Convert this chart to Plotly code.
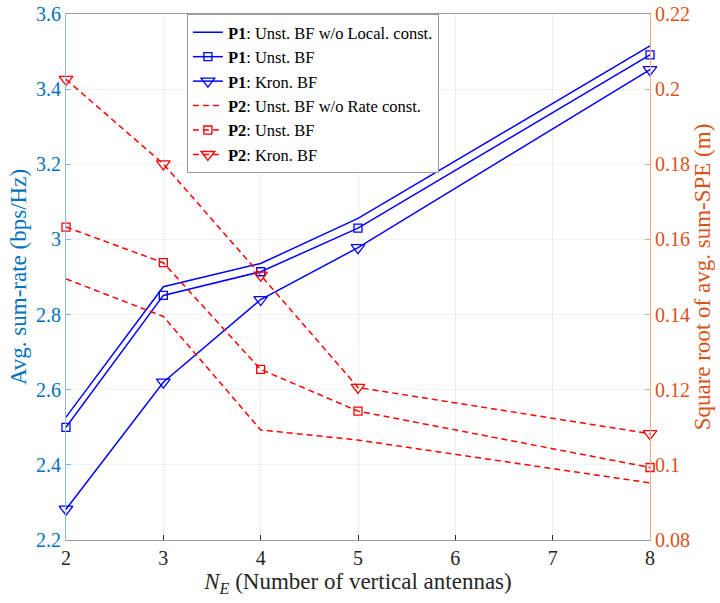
import plotly.graph_objects as go

NE = [2, 3, 4, 5, 8]

# P1: sum-rate (left axis, bps/Hz)
p1_unst_wo_local = [2.527, 2.874, 2.936, 3.056, 3.515]
p1_unst = [2.500, 2.851, 2.914, 3.030, 3.491]
p1_kron = [2.282, 2.620, 2.840, 2.978, 3.452]

# P2: sqrt of avg sum-SPE (right axis, m)
p2_unst_wo_rate = [0.1495, 0.1395, 0.1093, 0.1066, 0.0952]
p2_unst = [0.1633, 0.1538, 0.1254, 0.1143, 0.0993]
p2_kron = [0.2026, 0.1801, 0.1505, 0.1206, 0.1083]

left_ticks = [2.2, 2.4, 2.6, 2.8, 3.0, 3.2, 3.4, 3.6]
left_ticktext = ["2.2", "2.4", "2.6", "2.8", "3", "3.2", "3.4", "3.6"]
right_ticks = [0.08, 0.10, 0.12, 0.14, 0.16, 0.18, 0.20, 0.22]
right_ticktext = ["0.08", "0.1", "0.12", "0.14", "0.16", "0.18", "0.2", "0.22"]
x_ticks = [2, 3, 4, 5, 6, 7, 8]

BLUE = "#0000FF"
RED = "#FF0000"
LEFT_C = "#0072BD"
RIGHT_C = "#D95319"
FONT = "Liberation Serif, Times New Roman, serif"
DASH = "6px,4px"

fig = go.Figure()

def add(y, name, color, dash, symbol, size, axis):
    fig.add_trace(go.Scatter(
        x=NE, y=y, name=name, yaxis=axis,
        mode="lines+markers" if symbol else "lines",
        line=dict(color=color, width=1.5, dash=dash),
        marker=dict(symbol=symbol or "circle", size=size, color=color,
                    line=dict(color=color, width=1.3)),
        cliponaxis=False,
    ))

add(p1_unst_wo_local, "<b>P1</b>: Unst. BF w/o Local. const.", BLUE, "solid", None, 6, "y")
add(p1_unst, "<b>P1</b>: Unst. BF", BLUE, "solid", "square-open", 8, "y")
add(p1_kron, "<b>P1</b>: Kron. BF", BLUE, "solid", "triangle-down-open", 12, "y")
add(p2_unst_wo_rate, "<b>P2</b>: Unst. BF w/o Rate const.", RED, DASH, None, 6, "y2")
add(p2_unst, "<b>P2</b>: Unst. BF", RED, DASH, "square-open", 8, "y2")
add(p2_kron, "<b>P2</b>: Kron. BF", RED, DASH, "triangle-down-open", 12, "y2")

fig.update_layout(
    width=720, height=603,
    margin=dict(l=66, r=70, t=14, b=63, autoexpand=False),
    paper_bgcolor="white", plot_bgcolor="white",
    font=dict(family=FONT, size=20, color="#262626"),
    xaxis=dict(
        range=[2, 8], tickvals=x_ticks, ticks="inside", ticklen=5,
        tickcolor="#262626", showline=True, linecolor="#9a9a9a", linewidth=1,
        mirror=True, showgrid=True, gridcolor="rgba(38,38,38,0.08)",
        zeroline=False, tickfont=dict(family=FONT, size=20, color="#262626"),
        automargin=False,
        title=dict(text="<i>N</i><sub><i>E</i></sub> (Number of vertical antennas)",
                   font=dict(family=FONT, size=23, color="#262626"), standoff=2),
    ),
    yaxis=dict(
        range=[2.2, 3.6], tickvals=left_ticks, ticktext=left_ticktext,
        ticks="inside", ticklen=5, tickcolor="#7FB4DD",
        showline=True, linecolor="#8CBCE2", linewidth=1,
        showgrid=True, gridcolor="rgba(0,114,189,0.07)", zeroline=False,
        tickfont=dict(family=FONT, size=20, color=LEFT_C), automargin=False,
        title=dict(text="Avg. sum-rate (bps/Hz)",
                   font=dict(family=FONT, size=23, color=LEFT_C), standoff=2),
    ),
    yaxis2=dict(
        range=[0.08, 0.22], tickvals=right_ticks, ticktext=right_ticktext,
        overlaying="y", side="right", anchor="x",
        ticks="inside", ticklen=5, tickcolor="#ECA98C",
        showline=True, linecolor="#ECA98C", linewidth=1,
        showgrid=False, zeroline=False, automargin=False,
        tickfont=dict(family=FONT, size=20, color=RIGHT_C),
        title=dict(text="Square root of avg. sum-SPE (m)",
                   font=dict(family=FONT, size=23, color=RIGHT_C), standoff=2),
    ),
    legend=dict(
        x=0.207, y=1.0, xanchor="left", yanchor="top",
        bgcolor="white", bordercolor="#9a9a9a", borderwidth=1,
        font=dict(family=FONT, size=16.5, color="#000000"),
        tracegroupgap=0, itemwidth=30,
    ),
    showlegend=True,
)

fig.write_html("out.html")
